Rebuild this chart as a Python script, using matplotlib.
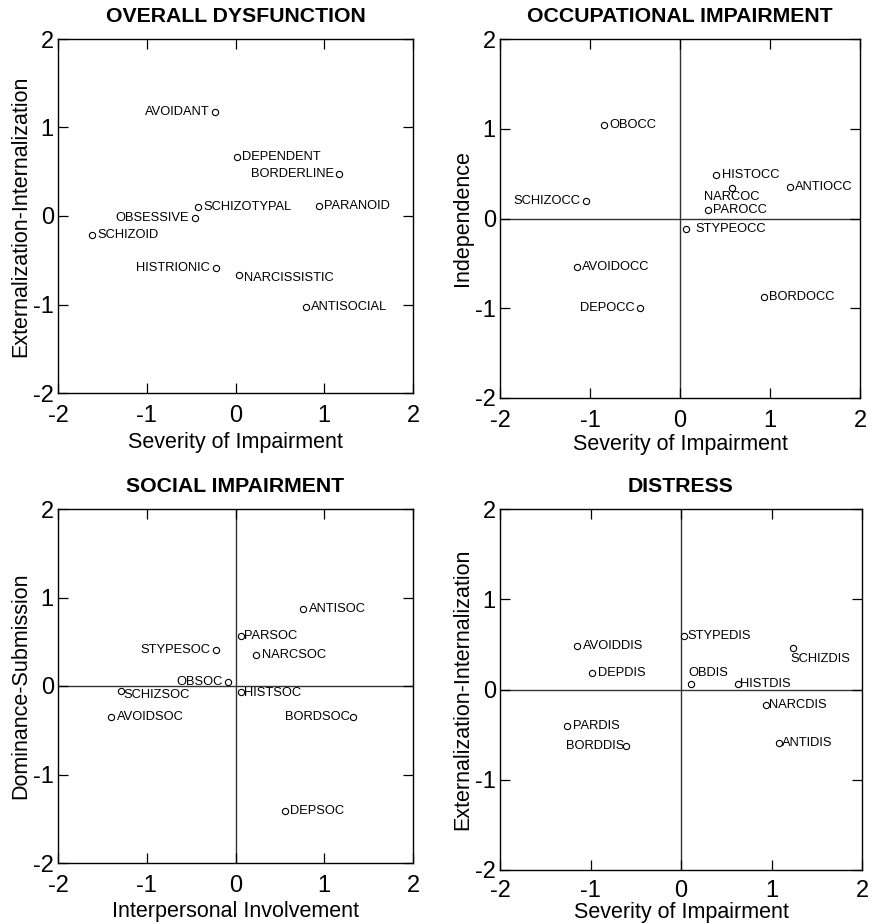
import matplotlib
matplotlib.use("Agg")
import matplotlib.pyplot as plt

plt.rcParams['font.family'] = ['Liberation Sans', 'DejaVu Sans']
plt.rcParams['axes.unicode_minus'] = False

# ---- data ----
overall_names = ["AVOIDANT", "DEPENDENT", "BORDERLINE", "SCHIZOTYPAL", "PARANOID",
                 "OBSESSIVE", "SCHIZOID", "HISTRIONIC", "NARCISSISTIC", "ANTISOCIAL"]
overall_x = [-0.23, 0.015, 1.17, -0.42, 0.94, -0.46, -1.62, -0.225, 0.034, 0.79]
overall_y = [1.18, 0.67, 0.47, 0.105, 0.11, -0.02, -0.21, -0.59, -0.67, -1.03]

occ_names = ["OBOCC", "HISTOCC", "NARCOC", "ANTIOCC", "SCHIZOCC", "PAROCC",
             "STYPEOCC", "AVOIDOCC", "DEPOCC", "BORDOCC"]
occ_x = [-0.846, 0.40, 0.575, 1.22, -1.05, 0.31, 0.067, -1.15, -0.44, 0.93]
occ_y = [1.04, 0.49, 0.345, 0.35, 0.20, 0.097, -0.12, -0.54, -1.00, -0.87]

soc_names = ["ANTISOC", "PARSOC", "STYPESOC", "NARCSOC", "OBSOC", "SCHIZSOC",
             "HISTSOC", "AVOIDSOC", "BORDSOC", "DEPSOC"]
soc_x = [0.765, 0.064, -0.225, 0.236, -0.083, -1.29, 0.064, -1.40, 1.325, 0.555]
soc_y = [0.87, 0.57, 0.41, 0.345, 0.05, -0.055, -0.066, -0.355, -0.35, -1.41]

dis_names = ["STYPEDIS", "AVOIDDIS", "SCHIZDIS", "DEPDIS", "OBDIS", "HISTDIS",
             "NARCDIS", "PARDIS", "BORDDIS", "ANTIDIS"]
dis_x = [0.035, -1.15, 1.24, -0.98, 0.11, 0.625, 0.94, -1.255, -0.61, 1.085]
dis_y = [0.59, 0.48, 0.46, 0.18, 0.057, 0.06, -0.175, -0.40, -0.63, -0.59]

ticks = [-2, -1, 0, 1, 2]

# ---- label placement (style): (dx, dy in points, ha, va) ----
R = (4, 0, 'left', 'center')
L = (-4, 0, 'right', 'center')
overall_place = [L, R, L, R, R, L, R, L, (4, -2, 'left', 'center'), R]
occ_place = [R, R, (0, -7, 'center', 'center'), R, L, R, (7, 0, 'left', 'center'), R, L, R]
soc_place = [R, (2, 0, 'left', 'center'), L, R, L, (2, -3, 'left', 'center'),
             (2, -1, 'left', 'center'), R, (-2, 0, 'right', 'center'), R]
dis_place = [(2, 0, 'left', 'center'), R, (-2, -8, 'left', 'center'), R,
             (-2, 8, 'left', 'center'), (2, 0, 'left', 'center'), (2, 0, 'left', 'center'),
             R, (-1, 0, 'right', 'center'), (2, 0, 'left', 'center')]

W, H = 874, 924
fig = plt.figure(figsize=(W / 100, H / 100), dpi=100)


def px_axes(l, r, t, b):
    return fig.add_axes([l / W, (H - b) / H, (r - l) / W, (b - t) / H])


panels = [
    (px_axes(58, 413, 39, 393), "OVERALL DYSFUNCTION", "Severity of Impairment",
     "Externalization-Internalization", overall_names, overall_x, overall_y, overall_place, False, 8.5, 3.7),
    (px_axes(500, 860, 39, 398), "OCCUPATIONAL IMPAIRMENT", "Severity of Impairment",
     "Independence", occ_names, occ_x, occ_y, occ_place, True, 8.5, 1.7),
    (px_axes(58, 413, 509, 863), "SOCIAL IMPAIRMENT", "Interpersonal Involvement",
     "Dominance-Submission", soc_names, soc_x, soc_y, soc_place, True, 8.5, 3.2),
    (px_axes(500, 862, 509, 870), "DISTRESS", "Severity of Impairment",
     "Externalization-Internalization", dis_names, dis_x, dis_y, dis_place, True, 7.0, 0.0),
]

for ax, title, xl, yl, names, xs, ys, place, cross, xtp, xlp in panels:
    ax.set_xlim(-2, 2)
    ax.set_ylim(-2, 2)
    ax.set_xticks(ticks)
    ax.set_yticks(ticks)
    ax.tick_params(direction='in', length=7, width=0.9, top=True, right=True,
                   labelsize=17)
    ax.tick_params(axis='x', pad=xtp)
    ax.tick_params(axis='y', pad=3)
    for s in ax.spines.values():
        s.set_linewidth(1.0)
    if cross:
        ax.axhline(0, color='#333333', lw=1.0, zorder=1)
        ax.axvline(0, color='#333333', lw=1.0, zorder=1)
    ax.plot(xs, ys, 'o', ms=4.5, mfc='white', mec='black', mew=0.8, zorder=3)
    for n, x, y, (dx, dy, ha, va) in zip(names, xs, ys, place):
        ax.annotate(n, (x, y), xytext=(dx, dy), textcoords='offset points',
                    ha=ha, va=va, fontsize=9.3)
    ax.set_title(title, fontsize=15.3, fontweight='bold', pad=12.5)
    ax.set_xlabel(xl, fontsize=15.5, labelpad=xlp)
    ax.set_ylabel(yl, fontsize=15.5, labelpad=1.5)

fig.savefig("out.png", dpi=100)
